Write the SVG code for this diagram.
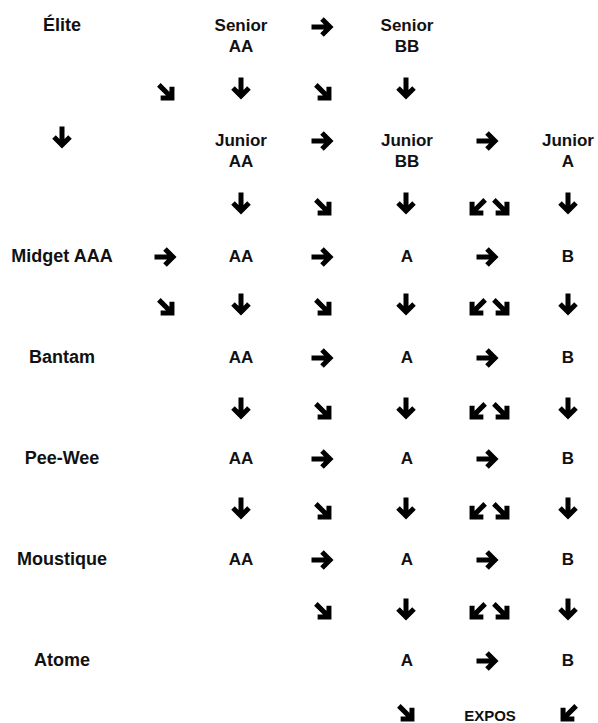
<svg xmlns="http://www.w3.org/2000/svg" xmlns:xlink="http://www.w3.org/1999/xlink" width="598" height="723" viewBox="0 0 598 723">
<style>
text{font-family:"Liberation Sans",Arial,sans-serif;font-weight:700;fill:#111;text-anchor:middle}
.lbl{font-size:18px}
.t{font-size:17px}
.ex{font-size:15px}
.arr path{fill:none;stroke:#000;stroke-width:5;stroke-linejoin:miter;stroke-miterlimit:4}
</style>
<defs>
<g id="ad" class="arr"><path d="M0,-11.5V5M-8,-1L0,7L8,-1"/></g>
</defs>
<rect width="598" height="723" fill="#fff"/>
<g id="nodes">
<g id="elite"><text class="lbl" x="62" y="31">Élite</text></g>
<g id="senior-aa"><text class="t" x="241" y="31">Senior</text><text class="t" x="241" y="52">AA</text></g>
<g id="senior-bb"><text class="t" x="407" y="31">Senior</text><text class="t" x="407" y="52">BB</text></g>
<g id="junior-aa"><text class="t" x="241" y="146">Junior</text><text class="t" x="241" y="167">AA</text></g>
<g id="junior-bb"><text class="t" x="407" y="146">Junior</text><text class="t" x="407" y="167">BB</text></g>
<g id="junior-a"><text class="t" x="568" y="146">Junior</text><text class="t" x="568" y="167">A</text></g>
<g id="midget"><text class="lbl" x="62" y="262">Midget AAA</text></g>
<g id="midget-aa"><text class="t" x="241" y="262">AA</text></g>
<g id="midget-a"><text class="t" x="407" y="262">A</text></g>
<g id="midget-b"><text class="t" x="568" y="262">B</text></g>
<g id="bantam"><text class="lbl" x="62" y="363">Bantam</text></g>
<g id="bantam-aa"><text class="t" x="241" y="363">AA</text></g>
<g id="bantam-a"><text class="t" x="407" y="363">A</text></g>
<g id="bantam-b"><text class="t" x="568" y="363">B</text></g>
<g id="peewee"><text class="lbl" x="62" y="464">Pee-Wee</text></g>
<g id="peewee-aa"><text class="t" x="241" y="464">AA</text></g>
<g id="peewee-a"><text class="t" x="407" y="464">A</text></g>
<g id="peewee-b"><text class="t" x="568" y="464">B</text></g>
<g id="moustique"><text class="lbl" x="62" y="565">Moustique</text></g>
<g id="moustique-aa"><text class="t" x="241" y="565">AA</text></g>
<g id="moustique-a"><text class="t" x="407" y="565">A</text></g>
<g id="moustique-b"><text class="t" x="568" y="565">B</text></g>
<g id="atome"><text class="lbl" x="62" y="666">Atome</text></g>
<g id="atome-a"><text class="t" x="407" y="666">A</text></g>
<g id="atome-b"><text class="t" x="568" y="666">B</text></g>
<g id="expos"><text class="ex" x="490" y="721">EXPOS</text></g>
</g>
<g id="connectors">
<!-- row 0 -->
<use xlink:href="#ad" transform="translate(323,27) rotate(-90)"/>
<!-- row 1 -->
<use xlink:href="#ad" transform="translate(167,93) rotate(-45)"/>
<use xlink:href="#ad" transform="translate(241,89)"/>
<use xlink:href="#ad" transform="translate(324,93) rotate(-45)"/>
<use xlink:href="#ad" transform="translate(406,89)"/>
<!-- row 2 -->
<use xlink:href="#ad" transform="translate(62,138)"/>
<use xlink:href="#ad" transform="translate(323,141) rotate(-90)"/>
<use xlink:href="#ad" transform="translate(488,141) rotate(-90)"/>
<!-- row 3 -->
<use xlink:href="#ad" transform="translate(241,204)"/>
<use xlink:href="#ad" transform="translate(324,208) rotate(-45)"/>
<use xlink:href="#ad" transform="translate(406,204)"/>
<use xlink:href="#ad" transform="translate(477,208) rotate(45)"/>
<use xlink:href="#ad" transform="translate(502,208) rotate(-45)"/>
<use xlink:href="#ad" transform="translate(568,204)"/>
<!-- row 4 -->
<use xlink:href="#ad" transform="translate(166,257) rotate(-90)"/>
<use xlink:href="#ad" transform="translate(323,257) rotate(-90)"/>
<use xlink:href="#ad" transform="translate(488,257) rotate(-90)"/>
<!-- row 5 -->
<use xlink:href="#ad" transform="translate(167,308) rotate(-45)"/>
<use xlink:href="#ad" transform="translate(241,305)"/>
<use xlink:href="#ad" transform="translate(324,308) rotate(-45)"/>
<use xlink:href="#ad" transform="translate(406,305)"/>
<use xlink:href="#ad" transform="translate(477,308) rotate(45)"/>
<use xlink:href="#ad" transform="translate(502,308) rotate(-45)"/>
<use xlink:href="#ad" transform="translate(568,305)"/>
<!-- row 6 -->
<use xlink:href="#ad" transform="translate(323,358) rotate(-90)"/>
<use xlink:href="#ad" transform="translate(488,358) rotate(-90)"/>
<!-- row 7 -->
<use xlink:href="#ad" transform="translate(241,409)"/>
<use xlink:href="#ad" transform="translate(324,412) rotate(-45)"/>
<use xlink:href="#ad" transform="translate(406,409)"/>
<use xlink:href="#ad" transform="translate(477,412) rotate(45)"/>
<use xlink:href="#ad" transform="translate(502,412) rotate(-45)"/>
<use xlink:href="#ad" transform="translate(568,409)"/>
<!-- row 8 -->
<use xlink:href="#ad" transform="translate(323,459) rotate(-90)"/>
<use xlink:href="#ad" transform="translate(488,459) rotate(-90)"/>
<!-- row 9 -->
<use xlink:href="#ad" transform="translate(241,509)"/>
<use xlink:href="#ad" transform="translate(324,512) rotate(-45)"/>
<use xlink:href="#ad" transform="translate(406,509)"/>
<use xlink:href="#ad" transform="translate(477,512) rotate(45)"/>
<use xlink:href="#ad" transform="translate(502,512) rotate(-45)"/>
<use xlink:href="#ad" transform="translate(568,509)"/>
<!-- row 10 -->
<use xlink:href="#ad" transform="translate(323,560) rotate(-90)"/>
<use xlink:href="#ad" transform="translate(488,560) rotate(-90)"/>
<!-- row 11 -->
<use xlink:href="#ad" transform="translate(324,612) rotate(-45)"/>
<use xlink:href="#ad" transform="translate(406,610)"/>
<use xlink:href="#ad" transform="translate(477,612) rotate(45)"/>
<use xlink:href="#ad" transform="translate(502,612) rotate(-45)"/>
<use xlink:href="#ad" transform="translate(568,610)"/>
<!-- row 12 -->
<use xlink:href="#ad" transform="translate(488,661) rotate(-90)"/>
<!-- row 13 -->
<use xlink:href="#ad" transform="translate(407,714) rotate(-45)"/>
<use xlink:href="#ad" transform="translate(568,714) rotate(45)"/>
</g>
</svg>
